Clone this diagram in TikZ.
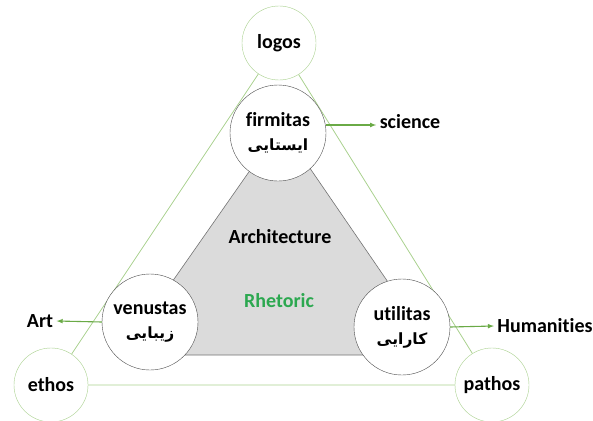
\documentclass[tikz,border=0pt]{standalone}
\usepackage{fontspec}
\setmainfont[RawFeature={-liga}]{Carlito}
\newfontfamily\farsifont[Script=Arabic]{DejaVu Sans}
\TeXXeTstate=1
\usetikzlibrary{arrows}
\definecolor{framegreen}{RGB}{169,209,142}
\definecolor{arrowgreen}{RGB}{106,170,70}
\definecolor{rhetgreen}{RGB}{44,168,80}
\tikzstyle{pole} = [draw=framegreen, fill=white, circle, minimum size=74pt, inner sep=0pt, font=\bfseries\fontsize{20}{24}\selectfont]
\tikzstyle{virtue} = [draw=black!70, fill=white, circle, minimum size=96pt, inner sep=0pt, align=center, font=\bfseries\fontsize{20}{24}\selectfont]
\tikzstyle{field} = [font=\bfseries\fontsize{20}{24}\selectfont]
\tikzstyle{link} = [draw=arrowgreen, line width=1.1pt, -latex]
\newcommand{\fa}[1]{{\farsifont\fontsize{15.5}{20}\selectfont\beginR #1\endR}}

\begin{document}
\begin{tikzpicture}[x=1pt, y=-1pt]
\useasboundingbox (0,0) rectangle (593,420);
% gray core
\filldraw[fill=black!14, draw=black!55, line width=0.6pt] (281,126) -- (121,355) -- (438,355) -- cycle;
\node at (280,237) {\bfseries\fontsize{20}{24}\selectfont Architecture};
\node at (279,301) {\bfseries\fontsize{20}{24}\selectfont\color{rhetgreen} Rhetoric};
% outer triangle
\node [pole] (logos) at (279,43) {logos};
\node [pole] (ethos) at (51,385) {ethos};
\node [pole] (pathos) at (492,385) {pathos};
\draw[framegreen, line width=0.8pt] (logos) -- (ethos) (ethos) -- (pathos) (pathos) -- (logos);
% three virtues
\node [virtue] (firmitas) at (278,133) {firmitas\\\fa{ایستایی}};
\node [virtue] (venustas) at (150,322) {venustas\\\fa{زیبایی}};
\node [virtue] (utilitas) at (402,327) {utilitas\\\fa{کارایی}};
\node [field] (science) at (410,122) {science};
\node [field] (art) at (40,321) {Art};
\node [field] (humanities) at (545,326) {Humanities};
\draw[link] ([yshift=8pt]firmitas.east) -- ([yshift=8pt]firmitas.east -| science.west);
\draw[link] (venustas.west) -- (art.east);
\draw[link] (utilitas.east) -- (humanities.west);
\end{tikzpicture}
\end{document}
